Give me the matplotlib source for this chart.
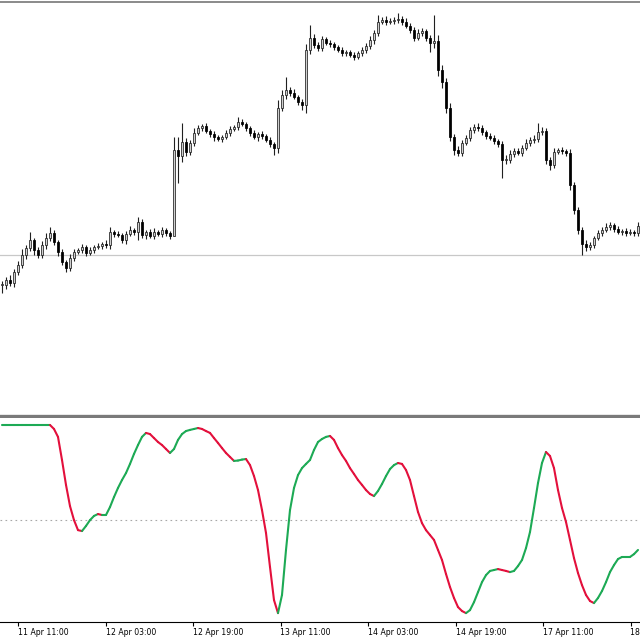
import matplotlib
matplotlib.use("Agg")
import matplotlib.pyplot as plt
from matplotlib.collections import LineCollection
import numpy as np

# ---- data ----
# closing prices, in pips above 1.0500
close_pips = [
    215, 220, 217, 228, 235, 245, 252, 260, 250, 245,
    255, 262, 267, 258, 248, 238, 232, 242, 248, 250,
    253, 247, 250, 253, 254, 256, 255, 268, 266, 265,
    260, 266, 270, 268, 278, 265, 268, 264, 268, 266,
    270, 267, 264, 350, 344, 358, 348, 357, 367, 372,
    374, 369, 366, 363, 361, 363, 367, 371, 373, 378,
    376, 372, 367, 363, 366, 364, 360, 356, 352, 392,
    405, 410, 407, 403, 398, 395, 450, 462, 455, 452,
    461, 457, 456, 453, 450, 447, 448, 445, 443, 447,
    450, 454, 460, 467, 478, 480, 478, 479, 480, 481,
    478, 474, 470, 462, 467, 469, 462, 457, 459, 430,
    418, 392, 363, 350, 347, 357, 362, 370, 373, 372,
    368, 364, 362, 359, 356, 340, 340, 346, 349, 347,
    352, 357, 360, 361, 368, 369, 340, 335, 348, 350,
    349, 347, 315, 290, 270, 256, 253, 255, 262, 267,
    270, 273, 275, 271, 268, 269, 267, 268, 267, 274,
]
# upper / lower wick lengths in pips
wick_up = [
    4, 3, 5, 3, 4, 6, 3, 8, 2, 3,
    4, 5, 6, 3, 2, 3, 2, 4, 3, 2,
    3, 2, 3, 2, 3, 2, 4, 5, 2, 3,
    2, 3, 4, 2, 5, 3, 2, 3, 4, 2,
    3, 2, 2, 13, 13, 19, 4, 3, 5, 3,
    2, 3, 2, 3, 2, 2, 3, 3, 2, 5,
    3, 2, 2, 3, 2, 3, 2, 3, 2, 8,
    5, 13, 3, 4, 2, 3, 6, 13, 4, 3,
    3, 2, 3, 2, 2, 3, 2, 2, 3, 2,
    3, 3, 4, 3, 7, 3, 4, 3, 3, 6,
    3, 4, 3, 3, 4, 3, 2, 3, 26, 6,
    5, 4, 5, 3, 4, 3, 3, 3, 3, 4,
    3, 2, 3, 3, 2, 3, 5, 4, 3, 3,
    3, 4, 3, 4, 9, 4, 3, 3, 4, 2,
    3, 2, 4, 3, 3, 3, 4, 3, 2, 3,
    3, 4, 3, 2, 3, 2, 3, 3, 2, 4,
]
wick_down = [
    8, 4, 3, 4, 3, 3, 4, 3, 5, 3,
    3, 4, 3, 3, 4, 3, 4, 3, 3, 2,
    3, 3, 2, 3, 2, 3, 3, 4, 3, 2,
    3, 4, 2, 3, 8, 3, 4, 2, 3, 2,
    3, 3, 3, 0, 27, 6, 4, 3, 3, 2,
    3, 2, 3, 4, 2, 3, 2, 3, 2, 3,
    2, 3, 3, 2, 4, 3, 2, 3, 7, 5,
    3, 4, 3, 2, 3, 5, 8, 4, 3, 3,
    3, 2, 3, 3, 2, 3, 3, 2, 3, 2,
    3, 3, 3, 4, 3, 2, 3, 2, 3, 3,
    3, 2, 3, 3, 2, 3, 3, 9, 5, 6,
    6, 5, 4, 5, 3, 3, 2, 3, 3, 3,
    3, 3, 2, 3, 3, 18, 4, 3, 3, 2,
    3, 2, 3, 3, 3, 3, 4, 5, 3, 2,
    3, 3, 5, 4, 4, 11, 4, 3, 3, 2,
    3, 2, 3, 3, 2, 3, 3, 2, 3, 3,
]
# oscillator (0..100)
osc = [
    100, 100, 100, 100, 100, 100, 100, 100, 100, 100,
    100, 100, 100, 97.9, 93.7, 81.5, 68.3, 57.1, 49.7, 44.4,
    43.9, 46.6, 49.7, 51.9, 52.9, 52.4, 52.4, 56.6, 61.9, 66.7,
    70.9, 74.6, 79.4, 84.7, 89.4, 93.7, 95.8, 95.2, 93.1, 91.0,
    89.4, 87.3, 85.2, 87.3, 92.1, 95.2, 96.8, 97.4, 97.9, 98.4,
    97.9, 96.8, 95.8, 93.1, 90.5, 87.8, 85.2, 83.1, 81.0, 81.2,
    81.7, 82.0, 78.8, 73.0, 65.6, 55.0, 42.9, 24.9, 7.4, 0.5,
    10.1, 33.9, 55.0, 66.7, 73.5, 77.2, 79.4, 81.5, 86.8, 91.0,
    92.6, 93.7, 94.2, 92.1, 87.8, 84.1, 81.0, 77.2, 74.1, 70.9,
    68.3, 65.6, 63.5, 62.4, 65.1, 68.8, 73.0, 76.7, 78.8, 79.9,
    79.4, 76.2, 70.9, 62.4, 54.0, 48.1, 44.4, 41.8, 39.2, 33.9,
    28.6, 21.2, 14.3, 8.5, 3.7, 1.6, 0.5, 2.1, 6.3, 11.6,
    16.9, 20.6, 22.8, 23.3, 23.8, 23.3, 22.8, 22.2, 22.8, 25.4,
    28.6, 34.9, 43.4, 56.1, 69.3, 79.9, 85.7, 83.6, 77.2, 65.6,
    56.1, 48.7, 39.2, 29.6, 21.7, 15.3, 10.1, 6.9, 5.8, 8.5,
    12.2, 16.9, 22.2, 25.9, 29.1, 30.2, 30.2, 30.2, 31.7, 33.9,
]
tick_bars = [4.0, 25.875, 47.75, 69.625, 91.5, 113.375, 135.25, 157.125]
tick_labels = ["11 Apr 11:00", "12 Apr 03:00", "12 Apr 19:00", "13 Apr 11:00",
               "14 Apr 03:00", "14 Apr 19:00", "17 Apr 11:00", "18 Apr 03:00"]
price_level_pips = 245
osc_mid = 50

# ---- derived OHLC ----
base = 1.0500
close = base + np.array(close_pips) / 1e4
opn = np.concatenate([[close[0]], close[:-1]])
high = np.maximum(opn, close) + np.array(wick_up) / 1e4
low = np.minimum(opn, close) - np.array(wick_down) / 1e4
x = np.arange(len(close))

W = H = 640
fig = plt.figure(figsize=(6.4, 6.4), dpi=100)
fig.patch.set_facecolor("white")


def px_axes(top, bottom):
    return fig.add_axes([0, 1 - bottom / H, 1, (bottom - top) / H])


ax = px_axes(2, 416)
ax2 = px_axes(418, 622)

# ---- price panel ----
ax.axhline(base + price_level_pips / 1e4, color="#c8c8c8", lw=0.9, zorder=1)
ax.vlines(x, low, high, color="#202020", lw=0.8, zorder=2)
bull = close >= opn
body_bottom = np.minimum(opn, close)
body_h = np.maximum(np.abs(close - opn), 0.00005)
ax.bar(x[bull], body_h[bull], bottom=body_bottom[bull], width=0.42,
       color="#d0d0d0", edgecolor="#202020", linewidth=0.55, zorder=3)
ax.bar(x[~bull], body_h[~bull], bottom=body_bottom[~bull], width=0.42,
       color="black", edgecolor="black", linewidth=0.55, zorder=3)
ax.set_xlim(-0.5, len(close) - 0.5)
ax.set_ylim(base + 84 / 1e4, base + 498 / 1e4)
ax.set_xticks([])
ax.set_yticks([])
for s in ("left", "right"):
    ax.spines[s].set_visible(False)
ax.spines["top"].set_color("#8a8a8a")
ax.spines["top"].set_linewidth(1.4)
ax.spines["bottom"].set_color("#7a7a7a")
ax.spines["bottom"].set_linewidth(2.4)

# ---- oscillator panel ----
ax2.axhline(osc_mid, color="#a8a8a8", lw=0.8, ls=(0, (1.5, 3)), zorder=1)
ov = np.array(osc, dtype=float)
pts = np.column_stack([x, ov])
segs = np.stack([pts[:-1], pts[1:]], axis=1)
cols = ["#1daa55" if ov[i + 1] >= ov[i] else "#e3103c" for i in range(len(ov) - 1)]
lc = LineCollection(segs, colors=cols, linewidths=1.5, capstyle="round",
                    joinstyle="round", zorder=3)
ax2.add_collection(lc)
ax2.set_xlim(-0.5, len(close) - 0.5)
ax2.set_ylim(-4.2, 103.7)
ax2.set_yticks([])
for s in ("left", "right", "top"):
    ax2.spines[s].set_visible(False)
ax2.spines["bottom"].set_color("black")
ax2.spines["bottom"].set_linewidth(0.8)
ax2.set_xticks(tick_bars)
ax2.set_xticklabels(tick_labels)
ax2.tick_params(axis="x", direction="out", length=3, width=0.8, color="black",
                pad=1.5, labelsize=5.6, labelcolor="black")
for lab in ax2.get_xticklabels():
    lab.set_horizontalalignment("left")

fig.savefig("out.png", dpi=100, facecolor="white")
